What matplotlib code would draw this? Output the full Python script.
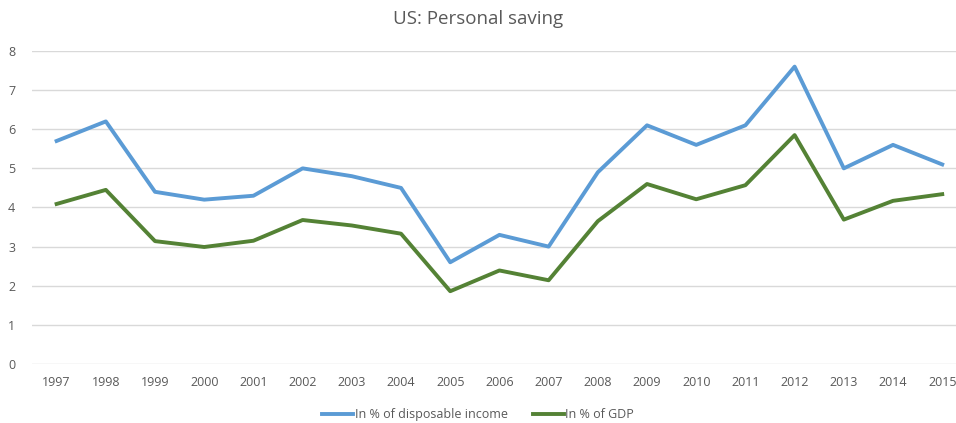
import matplotlib.pyplot as plt

years = [str(y) for y in range(1997, 2016)]
disposable = [5.7, 6.2, 4.4, 4.2, 4.3, 5.0, 4.8, 4.5, 2.6, 3.3, 3.0, 4.9, 6.1, 5.6, 6.1, 7.6, 5.0, 5.6, 5.1]
gdp = [4.09, 4.45, 3.14, 2.99, 3.15, 3.68, 3.54, 3.33, 1.86, 2.39, 2.14, 3.65, 4.6, 4.21, 4.57, 5.85, 3.69, 4.17, 4.34]

plt.rcParams['font.family'] = ['Open Sans', 'DejaVu Sans']
grey = '#595959'

fig = plt.figure(figsize=(9.56, 4.23), dpi=100)
ax = fig.add_axes([0.0335, 0.1395, 0.9665, 0.74])

x = range(len(years))
ax.plot(x, disposable, color='#5B9BD5', lw=2.8, label='In % of disposable income', solid_joinstyle='round')
ax.plot(x, gdp, color='#548235', lw=2.8, label='In % of GDP', solid_joinstyle='round')

ax.set_ylim(0, 8)
ax.set_xlim(-0.5, 18.28)
ax.set_yticks(range(0, 9))
ax.set_xticks(list(x))
ax.set_xticklabels(years)
ax.grid(axis='y', color='#d9d9d9', lw=1)
ax.set_axisbelow(True)
for s in ax.spines.values():
    s.set_visible(False)
ax.tick_params(length=0, colors=grey, labelsize=9)
ax.tick_params(axis='x', pad=9)
ax.tick_params(axis='y', pad=12)

fig.text(0.5, 0.955, 'US: Personal saving', ha='center', va='center', fontsize=13.5, color=grey)
fig.legend(loc='center', bbox_to_anchor=(0.5, 0.02), ncol=2, frameon=False,
           fontsize=9, labelcolor=grey, handlelength=2.5, handletextpad=0.1, columnspacing=2.0)

fig.savefig('out.png', dpi=100)
